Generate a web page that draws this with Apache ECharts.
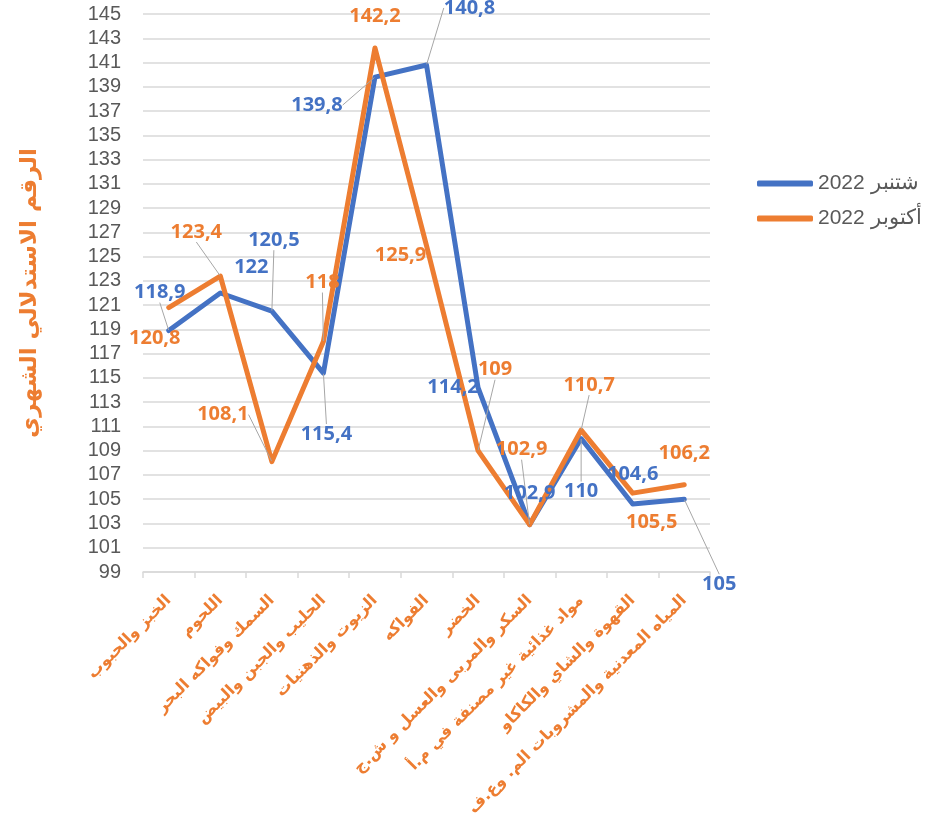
<!DOCTYPE html>
<html>
<head>
<meta charset="utf-8">
<script src="https://cdn.jsdelivr.net/npm/echarts@6/dist/echarts.min.js"></script>
<style>
  html, body { margin: 0; padding: 0; background: #fff; }
  #chart { width: 944px; height: 825px; }
</style>
</head>
<body>
<div id="chart"></div>
<script>
// ---------------- DATA ----------------
const categories = [
    'الخبز والحبوب',
    'اللحوم',
    'السمك وفواكه البحر',
    'الحليب والجبن والبيض',
    'الزيوت والذهنيات',
    'الفواكه',
    'الخضر',
    'السكر والمربى والعسل و ش.ج',
    'مواد غذائية غير مصنفة في م.أ',
    'القهوة والشاي والكاكاو',
    'المياه المعدنية والمشروبات الم. وع.ف'
];
const sept2022 = [118.9, 122, 120.5, 115.4, 139.8, 140.8, 114.2, 102.9, 110, 104.6, 105];
const oct2022 = [120.8, 123.4, 108.1, 118, 142.2, 125.9, 109, 102.9, 110.7, 105.5, 106.2];
const seriesNames = ['شتنبر 2022', 'أكتوبر 2022'];
const yTitle = 'الرقم الاستدلالي الشهري';

// label offsets from the point (label centre), and which ones get a leader line
const septLabelOffset = [[-9, -38], [31, -26], [2, -71], [3, 61], [-58, 28], [43, -57], [-25, 0], [0, -31], [0, 53], [0, -30], [35, 85]];
const septLeader = [1, 0, 1, 1, 1, 1, 0, 0, 1, 0, 1];
const octLabelOffset = [[-14, 31], [-24, -44], [-49, -47], [-1, -59], [0, -32], [-26, 10], [17, -81], [-8, -75], [8, -45], [19, 29], [0, -31]];
const octLeader = [0, 1, 1, 1, 0, 0, 1, 1, 1, 0, 0];

const BLUE = '#4472C4';
const ORANGE = '#ED7D31';
const offsets = [septLabelOffset, octLabelOffset];

function fmt(v) {
    return String(v).replace('.', ',');
}

function build(values, leaders) {
    return values.map((v, i) => ({
        value: v,
        labelLine: { show: !!leaders[i] }
    }));
}

function lineSeries(name, values, leaders, color) {
    return {
        name: name,
        type: 'line',
        data: build(values, leaders),
        symbol: 'circle',
        symbolSize: 1,
        itemStyle: { color: color },
        lineStyle: { color: color, width: 5, cap: 'round', join: 'round' },
        label: {
            show: true,
            position: 'inside',
            color: color,
            fontFamily: 'Open Sans',
            fontWeight: 'bold',
            fontSize: 20,
            formatter: p => fmt(p.value)
        },
        labelLine: {
            show: true,
            lineStyle: { color: '#a6a6a6', width: 1 }
        }
    };
}

let chart = echarts.init(document.getElementById('chart'));

chart.setOption({
    animation: false,
    grid: { left: 143, right: 234, top: 14, bottom: 253, containLabel: false, outerBoundsMode: 'none' },
    legend: {
        orient: 'vertical',
        left: 752,
        top: 168,
        itemWidth: 56,
        itemHeight: 6,
        itemGap: 14,
        icon: 'roundRect',
        textStyle: { color: '#595959', fontSize: 21, fontFamily: 'Liberation Sans' },
        data: seriesNames
    },
    xAxis: {
        type: 'category',
        data: categories,
        boundaryGap: true,
        axisLine: { lineStyle: { color: '#d9d9d9', width: 1.5 } },
        axisTick: { show: true, length: 6, lineStyle: { color: '#d9d9d9', width: 1.5 } },
        axisLabel: {
            interval: 0,
            rotate: 45,
            margin: 26,
            color: ORANGE,
            fontWeight: 'bold',
            fontSize: 16,
            fontFamily: 'DejaVu Sans'
        }
    },
    yAxis: {
        type: 'value',
        min: 99,
        max: 145,
        interval: 2,
        name: yTitle,
        nameLocation: 'middle',
        nameGap: 101,
        nameTextStyle: { color: ORANGE, fontWeight: 'bold', fontSize: 23, fontFamily: 'DejaVu Sans' },
        axisLine: { show: false },
        axisTick: { show: false },
        axisLabel: { color: '#595959', fontSize: 20, margin: 22, fontFamily: 'Liberation Sans' },
        splitLine: { lineStyle: { color: '#d9d9d9', width: 1.5 } }
    },
    series: [
        lineSeries(seriesNames[0], sept2022, septLeader, BLUE),
        lineSeries(seriesNames[1], oct2022, octLeader, ORANGE)
    ],
    labelLayout: function (p) {
        let o = offsets[p.seriesIndex][p.dataIndex];
        let cx = p.rect.x + p.rect.width / 2;
        let cy = p.rect.y + p.rect.height / 2;
        return {
            x: cx + o[0],
            y: cy + o[1],
            align: 'center',
            verticalAlign: 'middle'
        };
    }
});
</script>
</body>
</html>
